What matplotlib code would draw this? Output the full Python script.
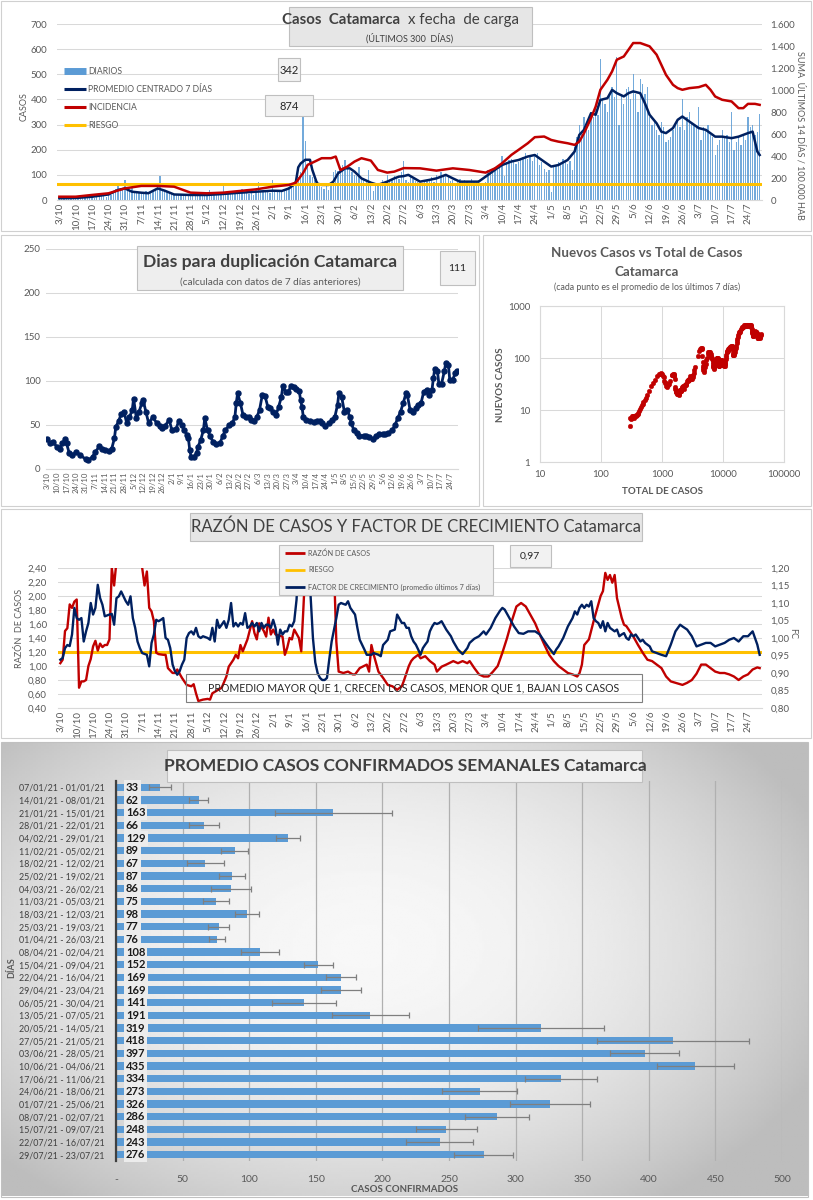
import matplotlib
matplotlib.use('Agg')
import matplotlib.pyplot as plt
from matplotlib.patches import Rectangle
from matplotlib.lines import Line2D
import numpy as np
import pandas as pd

plt.rcParams['font.family'] = ['Lato', 'DejaVu Sans']

W, H = 813, 1200
NAVY = '#002060'
ROJO = '#C00000'
AMARILLO = '#FFC000'
AZUL = '#5B9BD5'
GRIS = '#595959'
GRID = '#d9d9d9'

# ---------------- datos ----------------
inicio = '2020-10-03'

# casos diarios (una fila por semana, desde el sabado 3/10)
diarios = [
    5, 9, 6, 8, 10, 7, 6,
    8, 5, 9, 11, 7, 10, 8,
    12, 9, 15, 18, 14, 17, 13,
    22, 18, 35, 42, 55, 48, 40,
    80, 45, 38, 52, 35, 30, 28,
    25, 22, 35, 30, 28, 40, 45,
    55, 97, 40, 35, 30, 28, 25,
    20, 18, 25, 22, 19, 24, 21,
    18, 15, 22, 24, 20, 18, 25,
    22, 38, 20, 18, 24, 21, 19,
    55, 20, 25, 28, 22, 30, 26,
    30, 45, 28, 32, 25, 35, 20,
    40, 72, 35, 30, 38, 33, 28,
    80, 30, 35, 38, 40, 42, 45,
    50, 55, 60, 65, 90, 110, 335,
    235, 130, 100, 90, 80, 75, 60,
    50, 45, 55, 40, 60, 110, 120,
    115, 130, 140, 160, 135, 120, 110,
    100, 95, 130, 85, 80, 75, 120,
    70, 35, 60, 55, 65, 80, 60,
    100, 75, 80, 95, 90, 85, 110,
    155, 80, 70, 95, 85, 75, 70,
    60, 55, 80, 75, 85, 90, 70,
    100, 65, 110, 95, 105, 90, 75,
    80, 60, 70, 85, 75, 80, 70,
    65, 85, 75, 70, 80, 60, 55,
    70, 120, 110, 125, 130, 120, 140,
    175, 95, 150, 160, 165, 155, 145,
    150, 160, 170, 185, 165, 175, 155,
    180, 185, 140, 150, 125, 110, 120,
    30, 135, 140, 150, 145, 165, 160,
    145, 155, 120, 210, 250, 300, 275,
    330, 310, 280, 350, 330, 360, 340,
    560, 400, 380, 350, 420, 450, 410,
    570, 300, 420, 380, 440, 450, 400,
    500, 420, 350, 480, 460, 420, 450,
    330, 300, 320, 280, 260, 310, 290,
    230, 240, 250, 280, 300, 310, 290,
    400, 280, 330, 350, 310, 300, 290,
    370, 240, 290, 280, 300, 260, 250,
    180, 220, 240, 280, 250, 260, 230,
    350, 200, 230, 250, 220, 260, 240,
    330, 290, 300, 260, 270, 342,
]
total_inicial = 290

promedio = [
    ("3/10", 7), ("10/10", 8), ("17/10", 13), ("24/10", 22), ("28/10", 40), ("31/10", 46),
    ("3/11", 33), ("7/11", 29), ("10/11", 27), ("14/11", 46), ("17/11", 37), ("21/11", 22),
    ("28/11", 20), ("5/12", 20), ("12/12", 24), ("19/12", 29), ("26/12", 33), ("2/1", 37),
    ("6/1", 36), ("9/1", 46), ("11/1", 60), ("12/1", 73), ("13/1", 130), ("14/1", 145),
    ("16/1", 160), ("18/1", 160), ("19/1", 120), ("20/1", 93), ("21/1", 66), ("23/1", 60),
    ("26/1", 60), ("28/1", 73), ("30/1", 106), ("2/2", 126), ("4/2", 126), ("6/2", 113),
    ("9/2", 86), ("13/2", 69), ("16/2", 60), ("20/2", 73), ("23/2", 86), ("25/2", 93),
    ("27/2", 95), ("1/3", 100), ("6/3", 73), ("10/3", 80), ("13/3", 86), ("17/3", 100),
    ("20/3", 86), ("23/3", 73), ("27/3", 73), ("31/3", 73), ("3/4", 93), ("7/4", 120),
    ("10/4", 139), ("14/4", 153), ("17/4", 159), ("21/4", 173), ("24/4", 179), ("27/4", 159),
    ("1/5", 133), ("4/5", 139), ("8/5", 159), ("11/5", 193), ("13/5", 259), ("15/5", 279),
    ("18/5", 345), ("20/5", 339), ("22/5", 398), ("25/5", 405), ("27/5", 438), ("29/5", 425),
    ("1/6", 412), ("3/6", 425), ("5/6", 432), ("8/6", 425), ("10/6", 385), ("12/6", 339),
    ("15/6", 305), ("17/6", 272), ("19/6", 266), ("22/6", 286), ("24/6", 319), ("26/6", 332),
    ("29/6", 312), ("3/7", 286), ("6/7", 279), ("10/7", 252), ("13/7", 252), ("17/7", 246),
    ("20/7", 252), ("24/7", 266), ("26/7", 272), ("28/7", 193), ("29/7", 179),
]

incidencia = [
    ("3/10", 30), ("10/10", 30), ("17/10", 46), ("24/10", 61), ("31/10", 106), ("7/11", 128),
    ("14/11", 128), ("21/11", 121), ("28/11", 67), ("5/12", 61), ("12/12", 67), ("19/12", 82),
    ("26/12", 97), ("2/1", 121), ("9/1", 137), ("12/1", 158), ("15/1", 243), ("17/1", 319),
    ("20/1", 349), ("23/1", 380), ("27/1", 380), ("29/1", 395), ("31/1", 273), ("3/2", 304),
    ("6/2", 349), ("9/2", 380), ("13/2", 358), ("16/2", 273), ("20/2", 249), ("23/2", 258),
    ("27/2", 290), ("6/3", 288), ("13/3", 267), ("20/3", 288), ("27/3", 273), ("3/4", 249),
    ("7/4", 288), ("10/4", 334), ("14/4", 410), ("17/4", 455), ("21/4", 516), ("24/4", 571),
    ("28/4", 577), ("1/5", 546), ("4/5", 531), ("8/5", 516), ("11/5", 501), ("13/5", 531),
    ("15/5", 607), ("18/5", 744), ("20/5", 850), ("22/5", 1002), ("25/5", 1093), ("27/5", 1169),
    ("29/5", 1275), ("1/6", 1305), ("3/6", 1366), ("5/6", 1427), ("8/6", 1427), ("10/6", 1412),
    ("12/6", 1397), ("15/6", 1321), ("17/6", 1230), ("19/6", 1138), ("22/6", 1047), ("24/6", 1017),
    ("26/6", 1002), ("29/6", 1017), ("3/7", 1026), ("6/7", 1047), ("8/7", 1002), ("10/7", 941),
    ("13/7", 911), ("17/7", 896), ("20/7", 835), ("22/7", 835), ("24/7", 874), ("27/7", 874),
    ("29/7", 865),
]
riesgo_incidencia = 150

duplicacion = [
    ("3/10", 34), ("5/10", 29), ("7/10", 31), ("10/10", 25), ("12/10", 23), ("14/10", 29),
    ("16/10", 34), ("17/10", 29), ("19/10", 18), ("21/10", 16), ("24/10", 19), ("27/10", 16),
    ("31/10", 11), ("2/11", 10), ("5/11", 14), ("7/11", 19), ("10/11", 26), ("12/11", 23),
    ("14/11", 22), ("17/11", 20), ("19/11", 23), ("21/11", 35), ("22/11", 48), ("24/11", 54),
    ("26/11", 63), ("28/11", 65), ("30/11", 52), ("2/12", 59), ("4/12", 67), ("5/12", 80),
    ("7/12", 58), ("9/12", 65), ("11/12", 75), ("12/12", 78), ("14/12", 65), ("16/12", 52),
    ("19/12", 59), ("22/12", 52), ("24/12", 49), ("26/12", 47), ("28/12", 49), ("31/12", 56),
    ("2/1", 44), ("5/1", 45), ("7/1", 55), ("9/1", 50), ("11/1", 44), ("13/1", 39),
    ("14/1", 35), ("15/1", 22), ("16/1", 14), ("18/1", 14), ("20/1", 18), ("21/1", 25),
    ("23/1", 33), ("25/1", 44), ("26/1", 58), ("28/1", 44), ("30/1", 37), ("1/2", 31),
    ("3/2", 28), ("6/2", 29), ("8/2", 37), ("10/2", 44), ("13/2", 50), ("15/2", 52),
    ("17/2", 59), ("18/2", 75), ("19/2", 86), ("21/2", 75), ("23/2", 61), ("25/2", 59),
    ("27/2", 59), ("1/3", 56), ("3/3", 54), ("5/3", 59), ("7/3", 67), ("9/3", 84),
    ("11/3", 83), ("13/3", 71), ("15/3", 69), ("17/3", 65), ("19/3", 61), ("21/3", 71),
    ("23/3", 82), ("24/3", 94), ("26/3", 88), ("28/3", 88), ("30/3", 94), ("1/4", 93),
    ("3/4", 91), ("5/4", 89), ("6/4", 78), ("7/4", 71), ("8/4", 59), ("10/4", 56),
    ("13/4", 54), ("16/4", 53), ("18/4", 54), ("20/4", 55), ("22/4", 52), ("24/4", 49),
    ("27/4", 52), ("29/4", 56), ("1/5", 59), ("3/5", 73), ("4/5", 86), ("6/5", 82),
    ("8/5", 65), ("10/5", 67), ("12/5", 59), ("13/5", 52), ("15/5", 44), ("17/5", 41),
    ("19/5", 37), ("22/5", 38), ("24/5", 37), ("26/5", 36), ("29/5", 34), ("31/5", 37),
    ("2/6", 40), ("5/6", 40), ("7/6", 40), ("9/6", 41), ("12/6", 44), ("14/6", 50),
    ("16/6", 58), ("18/6", 65), ("20/6", 75), ("22/6", 86), ("23/6", 84), ("25/6", 67),
    ("27/6", 65), ("29/6", 69), ("1/7", 73), ("3/7", 75), ("5/7", 88), ("7/7", 90),
    ("9/7", 84), ("11/7", 90), ("12/7", 103), ("13/7", 114), ("15/7", 111), ("16/7", 97),
    ("18/7", 97), ("20/7", 111), ("21/7", 120), ("23/7", 118), ("24/7", 101), ("26/7", 101),
    ("28/7", 109), ("29/7", 111),
]

razon = [
    ("3/10", 1.04), ("4/10", 1.09), ("5/10", 1.50), ("6/10", 1.54), ("7/10", 1.88), ("8/10", 1.83),
    ("9/10", 1.92), ("10/10", 1.95), ("11/10", 0.69), ("12/10", 0.78), ("13/10", 0.78), ("14/10", 0.80),
    ("15/10", 1.00), ("16/10", 1.10), ("17/10", 1.28), ("18/10", 1.36), ("19/10", 1.22), ("20/10", 1.32),
    ("21/10", 1.27), ("22/10", 1.30), ("23/10", 1.30), ("24/10", 1.38), ("25/10", 2.40), ("26/10", 2.15),
    ("27/10", 2.50), ("29/10", 2.90), ("1/11", 3.10), ("4/11", 3.00), ("6/11", 2.70), ("7/11", 2.40),
    ("8/11", 2.15), ("9/11", 2.35), ("10/11", 1.83), ("11/11", 1.78), ("12/11", 1.64), ("13/11", 1.19),
    ("14/11", 1.17), ("16/11", 1.16), ("17/11", 1.16), ("18/11", 0.97), ("20/11", 0.90), ("21/11", 0.90),
    ("22/11", 0.95), ("24/11", 0.83), ("26/11", 0.73), ("28/11", 0.71), ("29/11", 0.74), ("30/11", 0.61),
    ("1/12", 0.50), ("3/12", 0.52), ("5/12", 0.53), ("6/12", 0.52), ("7/12", 0.61), ("9/12", 0.65),
    ("11/12", 0.69), ("13/12", 0.85), ("14/12", 0.99), ("16/12", 1.09), ("17/12", 1.16), ("18/12", 1.11),
    ("19/12", 1.30), ("20/12", 1.21), ("22/12", 1.38), ("24/12", 1.64), ("25/12", 1.47), ("26/12", 1.38),
    ("27/12", 1.61), ("29/12", 1.50), ("30/12", 1.42), ("31/12", 1.69), ("1/1", 1.45), ("2/1", 1.52),
    ("3/1", 1.45), ("6/1", 1.42), ("7/1", 1.16), ("8/1", 1.26), ("9/1", 1.40), ("10/1", 1.38),
    ("11/1", 1.52), ("13/1", 1.40), ("14/1", 1.21), ("15/1", 1.88), ("16/1", 2.60), ("20/1", 3.20),
    ("25/1", 3.00), ("28/1", 2.40), ("29/1", 1.35), ("30/1", 0.92), ("1/2", 0.90), ("3/2", 0.92),
    ("5/2", 0.88), ("6/2", 0.88), ("8/2", 0.97), ("11/2", 1.02), ("12/2", 0.92), ("13/2", 1.30),
    ("14/2", 1.16), ("16/2", 0.92), ("18/2", 0.83), ("20/2", 0.73), ("22/2", 0.71), ("24/2", 0.66),
    ("26/2", 0.71), ("27/2", 0.80), ("28/2", 0.90), ("1/3", 1.00), ("2/3", 1.07), ("3/3", 1.11),
    ("5/3", 1.16), ("6/3", 1.11), ("8/3", 1.14), ("10/3", 1.07), ("12/3", 1.02), ("13/3", 0.92),
    ("15/3", 0.99), ("17/3", 1.02), ("20/3", 1.07), ("22/3", 1.04), ("24/3", 1.07), ("26/3", 1.04),
    ("27/3", 1.07), ("29/3", 0.97), ("31/3", 0.88), ("2/4", 0.85), ("4/4", 0.85), ("6/4", 0.92),
    ("8/4", 1.00), ("10/4", 1.19), ("12/4", 1.40), ("14/4", 1.64), ("16/4", 1.85), ("18/4", 1.90),
    ("20/4", 1.85), ("22/4", 1.73), ("24/4", 1.61), ("26/4", 1.45), ("28/4", 1.30), ("30/4", 1.16),
    ("2/5", 1.07), ("4/5", 1.00), ("6/5", 0.95), ("8/5", 0.90), ("10/5", 0.88), ("12/5", 0.85),
    ("13/5", 0.90), ("14/5", 1.02), ("15/5", 1.30), ("17/5", 1.38), ("19/5", 1.64), ("20/5", 1.76),
    ("22/5", 2.00), ("23/5", 2.07), ("24/5", 2.33), ("25/5", 2.23), ("26/5", 2.30), ("27/5", 2.19),
    ("28/5", 2.30), ("29/5", 1.97), ("30/5", 1.83), ("31/5", 1.69), ("1/6", 1.59), ("2/6", 1.57),
    ("4/6", 1.47), ("5/6", 1.42), ("7/6", 1.30), ("9/6", 1.19), ("11/6", 1.09), ("13/6", 1.07),
    ("15/6", 1.02), ("17/6", 0.97), ("19/6", 0.85), ("21/6", 0.78), ("23/6", 0.76), ("26/6", 0.73),
    ("28/6", 0.76), ("30/6", 0.80), ("2/7", 0.89), ("4/7", 1.02), ("6/7", 1.02), ("8/7", 0.97),
    ("10/7", 0.92), ("12/7", 0.90), ("14/7", 0.90), ("16/7", 0.88), ("18/7", 0.85), ("20/7", 0.80),
    ("22/7", 0.85), ("24/7", 0.88), ("26/7", 0.95), ("28/7", 0.98), ("29/7", 0.97),
]
riesgo_razon = 1.2

factor = [
    ("3/10", 0.938), ("4/10", 0.943), ("5/10", 0.971), ("6/10", 0.980), ("7/10", 0.977), ("8/10", 1.010),
    ("9/10", 1.086), ("10/10", 1.057), ("11/10", 1.052), ("12/10", 1.057), ("13/10", 0.990), ("14/10", 1.019),
    ("15/10", 1.043), ("16/10", 1.100), ("17/10", 1.067), ("18/10", 1.086), ("19/10", 1.152), ("20/10", 1.114),
    ("21/10", 1.095), ("22/10", 1.062), ("24/10", 1.067), ("25/10", 1.069), ("26/10", 1.038), ("27/10", 1.114),
    ("28/10", 1.119), ("29/10", 1.133), ("31/10", 1.105), ("1/11", 1.095), ("2/11", 1.119), ("3/11", 1.057),
    ("4/11", 1.029), ("5/11", 0.990), ("6/11", 0.971), ("7/11", 0.957), ("9/11", 0.952), ("10/11", 0.919),
    ("11/11", 0.986), ("12/11", 1.010), ("13/11", 1.052), ("14/11", 1.048), ("15/11", 1.052), ("16/11", 1.057),
    ("17/11", 1.000), ("18/11", 0.995), ("19/11", 0.971), ("20/11", 0.924), ("21/11", 0.905), ("22/11", 0.895),
    ("23/11", 0.905), ("24/11", 0.924), ("25/11", 0.938), ("26/11", 1.000), ("27/11", 1.014), ("28/11", 1.019),
    ("29/11", 1.010), ("30/11", 1.029), ("1/12", 1.005), ("2/12", 1.000), ("3/12", 1.005), ("5/12", 1.000),
    ("6/12", 0.995), ("7/12", 1.029), ("8/12", 0.990), ("9/12", 1.052), ("10/12", 1.029), ("11/12", 1.038),
    ("12/12", 1.048), ("13/12", 1.029), ("14/12", 1.052), ("15/12", 1.100), ("16/12", 1.033), ("17/12", 1.043),
    ("18/12", 1.033), ("19/12", 1.043), ("20/12", 1.038), ("21/12", 1.071), ("22/12", 1.029), ("23/12", 1.033),
    ("24/12", 1.043), ("25/12", 1.033), ("26/12", 1.043), ("27/12", 1.019), ("28/12", 1.043), ("29/12", 1.029),
    ("30/12", 1.038), ("31/12", 1.038), ("1/1", 1.029), ("2/1", 1.052), ("3/1", 1.029), ("4/1", 0.981),
    ("5/1", 1.024), ("6/1", 1.010), ("7/1", 1.019), ("8/1", 1.019), ("9/1", 1.038), ("10/1", 1.033),
    ("11/1", 1.048), ("12/1", 1.110), ("13/1", 1.250), ("15/1", 1.320), ("17/1", 1.280), ("18/1", 1.120),
    ("19/1", 1.000), ("20/1", 0.930), ("21/1", 0.900), ("22/1", 0.886), ("23/1", 0.880), ("24/1", 0.880),
    ("25/1", 0.886), ("26/1", 0.940), ("27/1", 0.990), ("29/1", 1.057), ("30/1", 1.095), ("31/1", 1.100),
    ("2/2", 1.095), ("3/2", 1.105), ("4/2", 1.086), ("6/2", 1.067), ("7/2", 1.029), ("8/2", 0.995),
    ("10/2", 0.967), ("11/2", 0.952), ("13/2", 0.952), ("14/2", 0.957), ("16/2", 0.952), ("17/2", 0.948),
    ("18/2", 0.980), ("20/2", 0.995), ("21/2", 1.019), ("23/2", 1.024), ("24/2", 1.067), ("26/2", 1.043),
    ("27/2", 1.043), ("28/2", 1.029), ("1/3", 1.029), ("2/3", 1.005), ("3/3", 0.990), ("4/3", 0.981),
    ("5/3", 0.967), ("6/3", 0.952), ("7/3", 0.971), ("8/3", 0.981), ("9/3", 0.990), ("10/3", 1.019),
    ("11/3", 1.033), ("12/3", 1.043), ("13/3", 1.040), ("14/3", 1.043), ("15/3", 1.048), ("17/3", 1.024),
    ("19/3", 1.005), ("20/3", 0.990), ("22/3", 0.967), ("24/3", 0.954), ("26/3", 0.971), ("27/3", 0.986),
    ("29/3", 0.998), ("31/3", 1.005), ("2/4", 1.019), ("3/4", 1.010), ("5/4", 1.029), ("7/4", 1.057),
    ("9/4", 1.078), ("10/4", 1.086), ("11/4", 1.081), ("13/4", 1.057), ("15/4", 1.033), ("17/4", 1.014),
    ("19/4", 1.012), ("21/4", 1.019), ("24/4", 1.019), ("26/4", 1.010), ("28/4", 0.990), ("30/4", 0.971),
    ("2/5", 0.954), ("3/5", 0.967), ("4/5", 0.976), ("6/5", 1.000), ("8/5", 1.033), ("10/5", 1.057),
    ("11/5", 1.076), ("12/5", 1.067), ("13/5", 1.086), ("14/5", 1.095), ("15/5", 1.086), ("16/5", 1.095),
    ("17/5", 1.090), ("18/5", 1.105), ("19/5", 1.057), ("20/5", 1.048), ("21/5", 1.043), ("22/5", 1.029),
    ("23/5", 1.048), ("24/5", 1.019), ("25/5", 1.043), ("26/5", 1.029), ("27/5", 1.024), ("28/5", 1.019),
    ("29/5", 1.024), ("30/5", 1.005), ("31/5", 1.010), ("1/6", 1.014), ("2/6", 1.000), ("3/6", 0.995),
    ("4/6", 1.010), ("5/6", 1.005), ("6/6", 1.010), ("7/6", 1.000), ("8/6", 0.990), ("9/6", 0.995),
    ("10/6", 0.986), ("12/6", 0.976), ("13/6", 0.962), ("15/6", 0.957), ("17/6", 0.952), ("19/6", 0.948),
    ("21/6", 0.981), ("23/6", 1.019), ("25/6", 1.038), ("26/6", 1.033), ("28/6", 1.024), ("30/6", 1.005),
    ("2/7", 0.976), ("4/7", 0.981), ("6/7", 0.986), ("8/7", 0.986), ("10/7", 0.976), ("12/7", 0.981),
    ("14/7", 0.986), ("16/7", 0.995), ("18/7", 1.000), ("20/7", 0.990), ("22/7", 1.005), ("24/7", 1.005),
    ("26/7", 1.019), ("28/7", 0.981), ("29/7", 0.952),
]

semanas_txt = [
    "07/01/21 - 01/01/21", "14/01/21 - 08/01/21", "21/01/21 - 15/01/21", "28/01/21 - 22/01/21",
    "04/02/21 - 29/01/21", "11/02/21 - 05/02/21", "18/02/21 - 12/02/21", "25/02/21 - 19/02/21",
    "04/03/21 - 26/02/21", "11/03/21 - 05/03/21", "18/03/21 - 12/03/21", "25/03/21 - 19/03/21",
    "01/04/21 - 26/03/21", "08/04/21 - 02/04/21", "15/04/21 - 09/04/21", "22/04/21 - 16/04/21",
    "29/04/21 - 23/04/21", "06/05/21 - 30/04/21", "13/05/21 - 07/05/21", "20/05/21 - 14/05/21",
    "27/05/21 - 21/05/21", "03/06/21 - 28/05/21", "10/06/21 - 04/06/21", "17/06/21 - 11/06/21",
    "24/06/21 - 18/06/21", "01/07/21 - 25/06/21", "08/07/21 - 02/07/21", "15/07/21 - 09/07/21",
    "22/07/21 - 16/07/21", "29/07/21 - 23/07/21",
]
semanas_prom = [33, 62, 163, 66, 129, 89, 67, 87, 86, 75, 98, 77, 76, 108, 152,
                169, 169, 141, 191, 319, 418, 397, 435, 334, 273, 326, 286, 248, 243, 276]
semanas_err = [8, 7, 44, 11, 9, 10, 14, 10, 15, 10, 9, 8, 6, 14, 11,
               11, 15, 24, 29, 47, 57, 26, 29, 27, 28, 30, 24, 23, 25, 22]


# ---------------- utilidades ----------------
def a_fecha(s):
    d, m = [int(t) for t in s.split('/')]
    return pd.Timestamp(2020 if m >= 10 else 2021, m, d)


def serie(pares):
    return [a_fecha(p[0]) for p in pares], [p[1] for p in pares]


fig = plt.figure(figsize=(W / 100, H / 100), dpi=100)


def fx(x):
    return x / W


def fy(y):
    return 1 - y / H


def eje(x0, y0, x1, y1):
    return fig.add_axes([fx(x0), fy(y1), (x1 - x0) / W, (y1 - y0) / H])


def caja(x0, y0, x1, y1, fc='#e9e9e9', ec='#bfbfbf', lw=0.8, z=3, fill=True):
    fig.add_artist(Rectangle((fx(x0), fy(y1)), (x1 - x0) / W, (y1 - y0) / H,
                             transform=fig.transFigure, facecolor=fc, edgecolor=ec,
                             lw=lw, zorder=z, fill=fill))


def texto(x, y, s, **kw):
    kw.setdefault('ha', 'center')
    kw.setdefault('va', 'center')
    kw.setdefault('color', '#404040')
    fig.text(fx(x), fy(y), s, **kw)


def linea_ley(x0, x1, y, color, lw):
    fig.add_artist(Line2D([fx(x0), fx(x1)], [fy(y), fy(y)], transform=fig.transFigure,
                          color=color, lw=lw, solid_capstyle='butt', zorder=4))


dias = pd.date_range(inicio, periods=len(diarios))
semanas = pd.date_range(inicio, dias[-1], freq='7D')
etiquetas = [f'{d.day}/{d.month}' for d in semanas]
un_dia = pd.Timedelta(days=1)


def estilo_tiempo(ax, fs):
    ax.set_xticks(semanas)
    ax.set_xticklabels(etiquetas, rotation=90, fontsize=fs, color=GRIS)
    ax.set_xlim(dias[0] - un_dia, dias[-1] + un_dia)
    for s in ['top', 'right', 'left']:
        ax.spines[s].set_visible(False)
    ax.spines['bottom'].set_color(GRID)
    ax.tick_params(axis='x', length=0, pad=2)
    ax.tick_params(axis='y', length=0, labelsize=7, labelcolor=GRIS)
    ax.grid(axis='y', color=GRID, lw=0.75)
    ax.set_axisbelow(True)
    ax.patch.set_alpha(0)


# marcos de paneles
caja(1, 1, 811, 231, fill=False, ec='#d0d0d0')
caja(1, 235, 479, 506, fill=False, ec='#d0d0d0')
caja(483, 235, 811, 506, fill=False, ec='#d0d0d0')
caja(1, 509, 811, 738, fill=False, ec='#d0d0d0')
caja(1, 742, 808, 1197, fill=False, ec='#c0c0c0')

# ---------------- panel 1: casos x fecha de carga ----------------
ax1 = eje(57, 24, 762, 200)
ax1.bar(dias, diarios, width=0.55, color=AZUL, alpha=0.85)
f, v = serie(promedio)
ax1.plot(f, v, color=NAVY, lw=1.8)
ax1.set_ylim(0, 700)
ax1.set_yticks(range(0, 701, 100))
estilo_tiempo(ax1, 7)
ax1.tick_params(axis='y', pad=7)

ax1b = ax1.twinx()
ax1b.axhline(riesgo_incidencia, color=AMARILLO, lw=2.2)
f, v = serie(incidencia)
ax1b.plot(f, v, color=ROJO, lw=1.8)
ax1b.set_ylim(0, 1600)
ax1b.set_yticks(range(0, 1601, 200))
ax1b.set_yticklabels([f'{t:,}'.replace(',', '.') for t in range(0, 1601, 200)])
ax1b.tick_params(axis='y', length=0, labelsize=7, labelcolor=GRIS, pad=6)
for s in ax1b.spines.values():
    s.set_visible(False)

caja(289, 7, 532, 46, fc='#e6e6e6')
texto(400, 20, 'Casos  Catamarca', ha='right', fontsize=10.8, fontweight='bold', color='#404040')
texto(408, 20, 'x fecha  de carga', ha='left', fontsize=10.8, color='#404040')
texto(410, 38, '(ÚLTIMOS 300  DÍAS)', fontsize=6.5, color='#404040')

ley1 = [('DIARIOS', AZUL, 5), ('PROMEDIO CENTRADO 7 DÍAS', NAVY, 2.2),
        ('INCIDENCIA', ROJO, 2.2), ('RIESGO', AMARILLO, 2.2)]
for i, (lab, col, lw) in enumerate(ley1):
    yy = 71 + 18 * i
    linea_ley(64, 86, yy, col, lw)
    texto(88, yy, lab, ha='left', fontsize=6.2, color=GRIS)

caja(278, 58, 300, 81, fc='#f2f2f2')
texto(289, 70, '342', fontsize=8, color='#262626')
caja(265, 95, 313, 116, fc='#f2f2f2')
texto(289, 106, '874', fontsize=8, color='#262626')

texto(24, 107, 'CASOS', rotation=90, fontsize=6.5, color=GRIS)
texto(800, 135, 'SUMA  ÚLTIMOS 14 DÍAS / 100.000 HAB', rotation=270, fontsize=6.5, color=GRIS)

# ---------------- panel 2: dias para duplicacion ----------------
ax2 = eje(46, 249, 458, 469)
f, v = serie(duplicacion)
ax2.plot(f, v, color=NAVY, lw=2, marker='o', ms=3.6)
ax2.set_ylim(0, 250)
ax2.set_yticks(range(0, 251, 50))
estilo_tiempo(ax2, 5.6)
ax2.tick_params(axis='y', pad=4)

caja(137, 246, 403, 290, fc='#eeeeee')
texto(270, 262, 'Dias para duplicación Catamarca', fontsize=12.6, fontweight='bold', color='#404040')
texto(270, 282, '(calculada con datos de 7 días anteriores)', fontsize=7.2, color=GRIS)
caja(440, 251, 475, 285, fc='#f2f2f2')
texto(457, 268, '111', fontsize=7.5, color='#262626')

# ---------------- panel 3: nuevos vs total ----------------
ax3 = eje(540, 306, 784, 462)
s_diarios = pd.Series(diarios, dtype=float)
nuevos = s_diarios.rolling(7, min_periods=1).mean()
totales = total_inicial + s_diarios.cumsum()
ax3.scatter(totales, nuevos, s=11, color=ROJO, edgecolors=ROJO, linewidths=0.3, zorder=3)
ax3.set_xscale('log')
ax3.set_yscale('log')
ax3.set_xlim(10, 100000)
ax3.set_ylim(1, 1000)
xt = [10, 100, 1000, 10000, 100000]
yt = [1, 10, 100, 1000]
ax3.set_xticks(xt)
ax3.set_xticklabels([str(t) for t in xt])
ax3.set_yticks(yt)
ax3.set_yticklabels([str(t) for t in yt])
ax3.minorticks_off()
ax3.tick_params(length=0, labelsize=7, labelcolor=GRIS)
ax3.tick_params(axis='y', pad=7)
ax3.tick_params(axis='x', pad=6)
ax3.grid(True, color=GRID, lw=0.75)
ax3.set_axisbelow(True)
for s in ax3.spines.values():
    s.set_color(GRID)

texto(647, 253, 'Nuevos Casos vs Total de Casos', fontsize=9.6, fontweight='bold', color=GRIS)
texto(647, 272, 'Catamarca', fontsize=9.6, fontweight='bold', color=GRIS)
texto(647, 287, '(cada punto es el promedio de los últimos 7 días)', fontsize=6.3, color=GRIS)
texto(500, 385, 'NUEVOS CASOS', rotation=90, fontsize=7, fontweight='bold', color=GRIS)
texto(662, 492, 'TOTAL DE CASOS', fontsize=7, fontweight='bold', color=GRIS)

# ---------------- panel 4: razon y factor ----------------
ax4 = eje(58, 568, 762, 708)
ax4.axhline(riesgo_razon, color=AMARILLO, lw=2.2, zorder=2)
f, v = serie(razon)
ax4.plot(f, v, color=ROJO, lw=1.7, zorder=3)
ax4.set_ylim(0.4, 2.4)
yt4 = np.arange(0.4, 2.41, 0.2)
ax4.set_yticks(yt4)
ax4.set_yticklabels([f'{t:.2f}'.replace('.', ',') for t in yt4])
estilo_tiempo(ax4, 7)
ax4.tick_params(axis='y', pad=8)

ax4b = ax4.twinx()
f, v = serie(factor)
ax4b.plot(f, v, color=NAVY, lw=1.7)
ax4b.set_ylim(0.8, 1.2)
yt4b = np.arange(0.8, 1.201, 0.05)
ax4b.set_yticks(yt4b)
ax4b.set_yticklabels([f'{t:.2f}'.replace('.', ',') for t in yt4b])
ax4b.tick_params(axis='y', length=0, labelsize=7, labelcolor=GRIS, pad=6)
for s in ax4b.spines.values():
    s.set_visible(False)

caja(190, 513, 642, 541, fc='#e6e6e6')
texto(416, 527, 'RAZÓN DE CASOS Y FACTOR DE CRECIMIENTO Catamarca', fontsize=12, color='#404040')

caja(279, 545, 493, 595, fc='#f0f0f0')
ley4 = [('RAZÓN DE CASOS', ROJO), ('RIESGO', AMARILLO),
        ('FACTOR DE CRECIMIENTO (promedio últimos 7 días)', NAVY)]
for i, (lab, col) in enumerate(ley4):
    yy = 553 + 17 * i
    linea_ley(285, 305, yy, col, 2)
    texto(308, yy, lab, ha='left', fontsize=5.2, color=GRIS)

caja(510, 545, 551, 567, fc='#f2f2f2')
texto(530, 556, '0,97', fontsize=7.5, color='#262626')

caja(186, 674, 642, 702, fill=False, ec='#7f7f7f')
texto(414, 688, 'PROMEDIO MAYOR QUE 1, CRECEN LOS CASOS, MENOR QUE 1, BAJAN LOS CASOS',
      fontsize=7.6, color='#262626')

texto(20, 628, 'RAZÓN  DE CASOS', rotation=90, fontsize=6.5, color=GRIS)
texto(793, 633, 'FC', rotation=270, fontsize=6.5, color=GRIS)

# ---------------- panel 5: promedios semanales ----------------
fondo = eje(2, 743, 807, 1196)
yy, xx = np.mgrid[0:1:200j, 0:1:300j]
r2 = ((xx - 0.45) / 0.7) ** 2 + ((yy - 0.45) / 0.8) ** 2
grad = np.clip(0.97 - 0.30 * r2, 0.74, 0.97)
fondo.imshow(grad, cmap='gray', vmin=0, vmax=1, aspect='auto', extent=(0, 1, 1, 0))
fondo.set_axis_off()
fondo.set_zorder(-1)

ax5 = eje(116, 781, 782, 1161)
pos = np.arange(len(semanas_prom))
ax5.barh(pos, semanas_prom, height=0.58, color=AZUL, xerr=semanas_err,
         error_kw=dict(ecolor='#7f7f7f', elinewidth=0.9, capsize=2.5, capthick=0.9))
ax5.set_ylim(len(pos) - 0.5, -0.5)
ax5.set_xlim(0, 500)
ax5.set_yticks(pos)
ax5.set_yticklabels(semanas_txt, fontsize=6.4, color='#404040')
xt5 = list(range(0, 501, 50))
ax5.set_xticks(xt5)
ax5.set_xticklabels(['-'] + [str(t) for t in xt5[1:]], fontsize=7.5, color=GRIS)
ax5.tick_params(length=0)
ax5.tick_params(axis='y', pad=8)
ax5.tick_params(axis='x', pad=10)
ax5.grid(axis='x', color='#b0b0b0', lw=0.9)
ax5.set_axisbelow(True)
ax5.patch.set_alpha(0)
for s in ['top', 'right', 'bottom']:
    ax5.spines[s].set_visible(False)
ax5.spines['left'].set_color('#404040')
ax5.spines['left'].set_linewidth(1.6)
for i, val in enumerate(semanas_prom):
    ax5.text(7.5, i, str(val), ha='left', va='center', fontsize=8, fontweight='bold',
             color='#1a1a1a', zorder=5,
             bbox=dict(boxstyle='square,pad=0.18', facecolor='#ececec', edgecolor='none'))

caja(167, 750, 642, 782, fc='#f0f0f0')
texto(405, 766, 'PROMEDIO CASOS CONFIRMADOS SEMANALES Catamarca', fontsize=12.5,
      fontweight='bold', color='#404040')
texto(12, 968, 'DÍAS', rotation=90, fontsize=6.5, fontweight='bold', color=GRIS)
texto(405, 1189, 'CASOS CONFIRMADOS', fontsize=7, fontweight='bold', color=GRIS)

fig.savefig('out.png', dpi=100)
